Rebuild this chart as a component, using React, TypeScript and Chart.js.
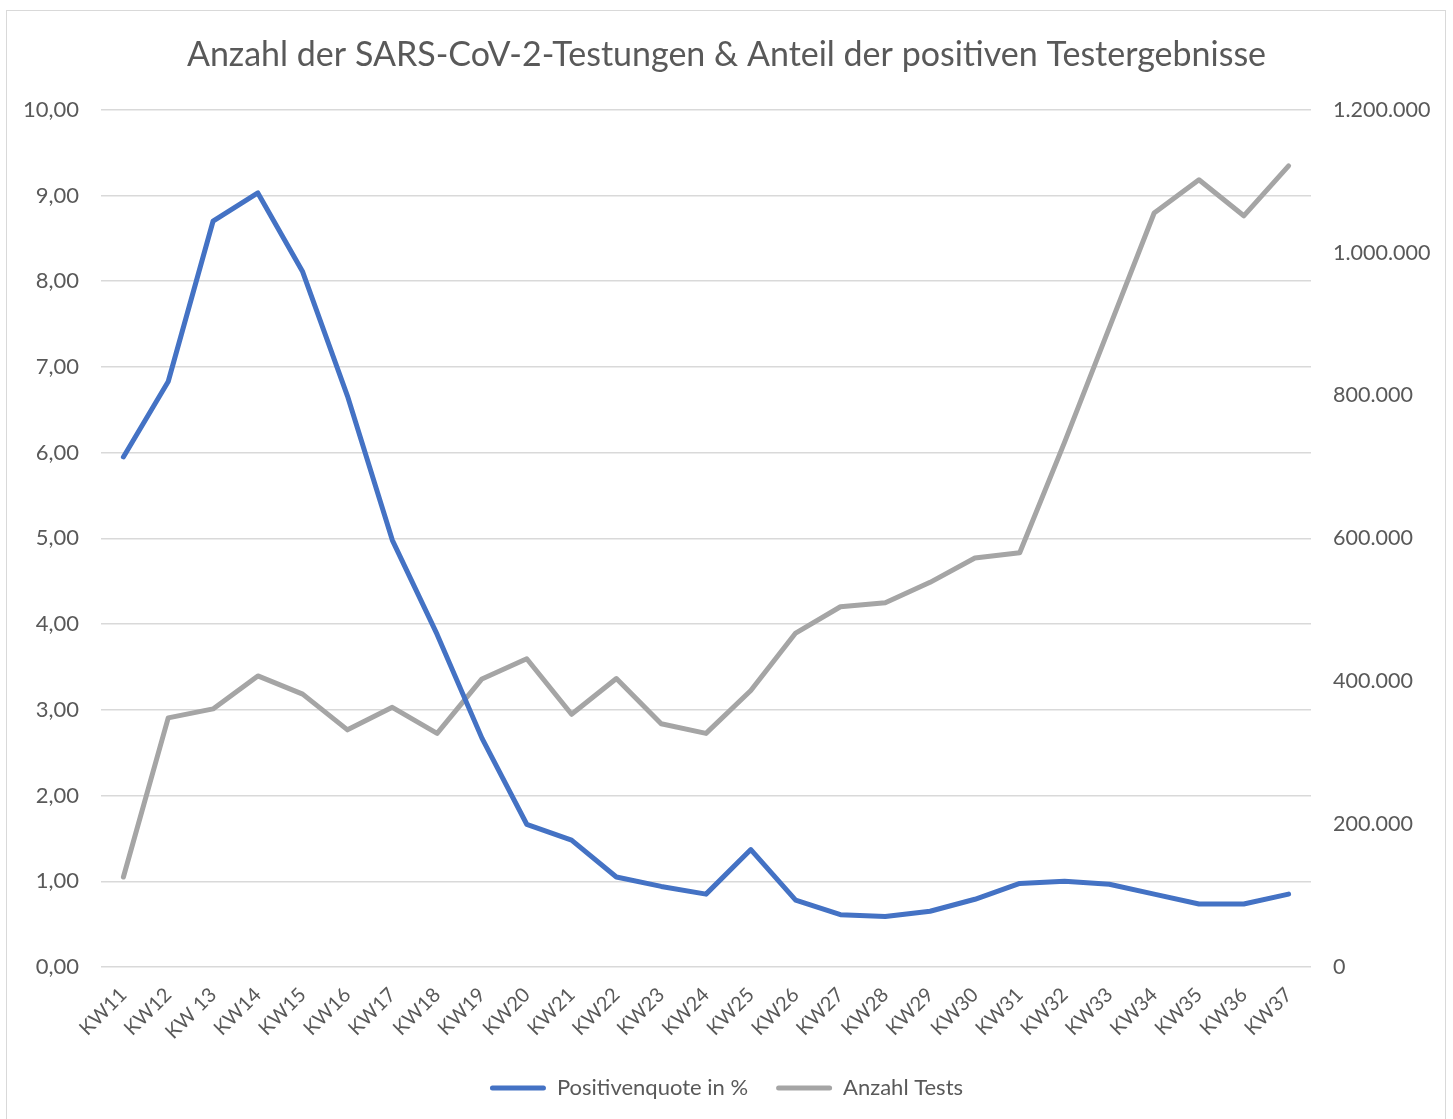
import React, { useEffect, useRef } from "react";
import { Chart, registerables } from "chart.js";

Chart.register(...registerables);

const weeks = [
  "KW11", "KW12", "KW 13", "KW14", "KW15", "KW16", "KW17", "KW18", "KW19",
  "KW20", "KW21", "KW22", "KW23", "KW24", "KW25", "KW26", "KW27", "KW28",
  "KW29", "KW30", "KW31", "KW32", "KW33", "KW34", "KW35", "KW36", "KW37",
];

const positiveRate = [
  5.95, 6.83, 8.7, 9.03, 8.11, 6.66, 4.98, 3.88, 2.67, 1.665, 1.48, 1.05,
  0.94, 0.85, 1.37, 0.78, 0.61, 0.59, 0.65, 0.79, 0.975, 1.0, 0.965, 0.85,
  0.735, 0.735, 0.85,
];

const testCount = [
  126000, 348700, 361300, 407500, 382000, 332000, 363500, 327000, 403300,
  431500, 353800, 403800, 340500, 327000, 387000, 467500, 504300, 510000,
  538500, 572500, 580000, 734500, 895000, 1055500, 1102000, 1051600, 1121600,
];

const title = "Anzahl der SARS-CoV-2-Testungen & Anteil der positiven Testergebnisse";
const seriesNames = ["Positivenquote in %", "Anzahl Tests"];
const seriesColors = ["#4472C4", "#A5A5A5"];

const FONT = "Lato, 'Open Sans', sans-serif";
const TEXT = "#595959";

const fmtThousands = (n: number) =>
  String(Math.round(n)).replace(/\B(?=(\d{3})+(?!\d))/g, ".");

export default function App() {
  const ref = useRef<HTMLCanvasElement | null>(null);

  useEffect(() => {
    if (!ref.current) return;
    const chart = new Chart(ref.current, {
      type: "line",
      data: {
        labels: weeks,
        datasets: [
          {
            label: seriesNames[0],
            data: positiveRate,
            borderColor: seriesColors[0],
            backgroundColor: seriesColors[0],
            borderWidth: 5,
            pointRadius: 0,
            borderJoinStyle: "round",
            borderCapStyle: "round",
            yAxisID: "y",
          },
          {
            label: seriesNames[1],
            data: testCount,
            borderColor: seriesColors[1],
            backgroundColor: seriesColors[1],
            borderWidth: 5,
            pointRadius: 0,
            borderJoinStyle: "round",
            borderCapStyle: "round",
            yAxisID: "y1",
          },
        ],
      },
      options: {
        responsive: false,
        animation: false,
        layout: { padding: { left: 0, right: 0, top: 0, bottom: 10 } },
        plugins: {
          title: {
            display: true,
            text: title,
            color: TEXT,
            font: { family: FONT, size: 34, weight: "normal" },
            padding: { top: 35, bottom: 34 },
          },
          legend: {
            position: "bottom",
            labels: {
              color: TEXT,
              font: { family: FONT, size: 22 },
              boxWidth: 56,
              boxHeight: 5,
              padding: 28,
              generateLabels: (c: any) => {
                const items = Chart.defaults.plugins.legend.labels.generateLabels(c);
                return items.map((it: any) => ({
                  ...it,
                  lineWidth: 0,
                  borderRadius: 2.5,
                }));
              },
            },
          },
          tooltip: { enabled: false },
        },
        scales: {
          x: {
            type: "category",
            offset: true,
            grid: { display: false },
            border: { display: false },
            ticks: {
              color: TEXT,
              font: { family: FONT, size: 20 },
              minRotation: 45,
              maxRotation: 45,
              autoSkip: false,
              padding: 8,
            },
            afterFit: (s: any) => {
              s.height = 82;
            },
          },
          y: {
            position: "left",
            min: 0,
            max: 10,
            ticks: {
              stepSize: 1,
              color: TEXT,
              font: { family: FONT, size: 22 },
              padding: 22,
              callback: (v: any) => Number(v).toFixed(2).replace(".", ","),
            },
            grid: { color: "#D9D9D9", lineWidth: 1.5, drawTicks: false },
            border: { display: false },
            afterFit: (s: any) => {
              s.width = 101;
            },
          },
          y1: {
            position: "right",
            min: 0,
            max: 1200000,
            ticks: {
              stepSize: 200000,
              color: TEXT,
              font: { family: FONT, size: 21.5 },
              padding: 22,
              callback: (v: any) => fmtThousands(Number(v)),
            },
            grid: { display: false, drawTicks: false },
            border: { display: false },
            afterFit: (s: any) => {
              s.width = 142;
            },
          },
        },
      },
    } as any);
    return () => chart.destroy();
  }, []);

  return (
    <div
      style={{
        position: "fixed",
        left: 0,
        top: 0,
        width: 1453,
        height: 1119,
        overflow: "hidden",
        background: "#fff",
      }}
    >
      <div
        style={{
          position: "absolute",
          left: 6,
          top: 10,
          width: 1440,
          height: 1200,
          border: "1.5px solid #D9D9D9",
          boxSizing: "border-box",
        }}
      />
      <canvas
        ref={ref}
        width={1453}
        height={1119}
        style={{ position: "absolute", left: 0, top: 0, width: 1453, height: 1119 }}
      />
    </div>
  );
}
